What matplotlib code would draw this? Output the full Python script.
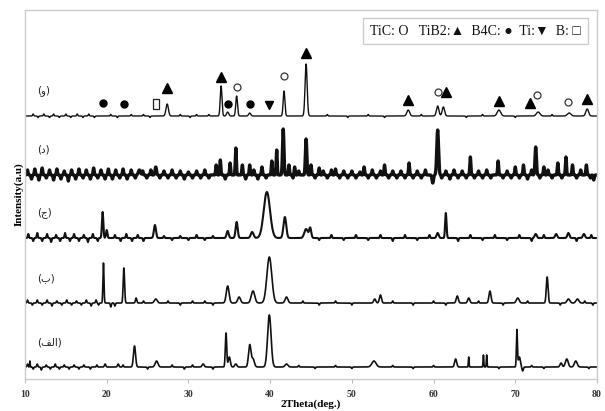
import numpy as np
import matplotlib
matplotlib.use("Agg")
import matplotlib.pyplot as plt

# Eje 2theta
theta_min, theta_max = 10, 80

# Etiquetas de cada patrón (de arriba a abajo) y su línea base (a.u.)
etiquetas = ["(و)", "(د)", "(ج)", "(ب)", "(\ufed2\ufedf\ufe8d)"]
lineas_base = [263, 204, 141, 76, 12]

# Picos: posición (deg), altura (a.u.), ancho (deg)
picos_waw_pos = [27.4, 34.0, 34.8, 35.9, 37.5, 41.7, 44.4, 56.9, 60.5, 61.2, 68.0, 72.8, 76.6, 78.8]
picos_waw_h = [12, 30, 4, 20, 3, 25, 52, 6, 10, 9, 6, 4, 3, 7]
picos_waw_w = [0.35, 0.25, 0.3, 0.25, 0.3, 0.25, 0.3, 0.4, 0.35, 0.35, 0.5, 0.5, 0.5, 0.4]

picos_dal_pos = [24.0, 26.0, 33.4, 33.9, 35.1, 35.8, 36.6, 37.5, 39.0, 40.2, 40.8, 41.6, 42.3, 43.0,
                 44.4, 45.0, 46.0, 48.0, 51.5, 54.0, 57.0, 59.9, 60.5, 64.5, 67.9, 70.0, 71.0, 72.5,
                 73.5, 75.2, 76.2, 77.0, 78.7]
picos_dal_h = [5, 8, 10, 15, 12, 27, 10, 10, 8, 14, 25, 46, 10, 8,
               36, 10, 7, 6, 8, 10, 12, -8, 45, 18, 14, 8, 10, 28,
               8, 12, 18, 10, 10]
picos_dal_w = [0.3, 0.2, 0.15, 0.15, 0.15, 0.15, 0.15, 0.15, 0.15, 0.15, 0.15, 0.2, 0.15, 0.15,
               0.2, 0.15, 0.15, 0.15, 0.15, 0.15, 0.15, 0.2, 0.25, 0.15, 0.15, 0.15, 0.15, 0.2,
               0.15, 0.15, 0.15, 0.15, 0.15]

picos_jim_pos = [19.5, 20.0, 25.9, 34.8, 35.9, 37.8, 39.6, 41.8, 44.4, 44.9, 60.5, 61.5, 72.5, 75.0, 76.5, 78.4]
picos_jim_h = [26, 8, 13, 7, 16, 6, 46, 21, 9, 10, 5, 25, 4, 4, 5, 4]
picos_jim_w = [0.2, 0.2, 0.3, 0.3, 0.3, 0.4, 0.9, 0.4, 0.5, 0.3, 0.3, 0.2, 0.3, 0.3, 0.3, 0.3]

picos_ba_pos = [19.6, 22.1, 23.6, 26.0, 34.8, 36.2, 37.9, 39.9, 42.0, 52.8, 53.5, 62.9, 64.3, 66.9,
                70.3, 73.9, 76.5, 77.6]
picos_ba_h = [40, 35, 5, 4, 17, 6, 12, 46, 6, 4, 8, 7, 5, 12, 5, 26, 4, 4]
picos_ba_w = [0.15, 0.2, 0.2, 0.4, 0.4, 0.4, 0.5, 0.7, 0.4, 0.3, 0.3, 0.3, 0.3, 0.3, 0.4, 0.25, 0.4, 0.4]

picos_alef_pos = [10.6, 19.8, 21.4, 23.4, 26.1, 31.8, 34.6, 35.0, 35.8, 37.5, 37.9, 39.9, 42.0, 52.7,
                  62.7, 64.3, 66.1, 66.5, 70.2, 70.5, 70.9, 75.6, 76.3, 77.4]
picos_alef_h = [6, 3, 3, 21, 6, 3, 34, 10, 3, 22, 8, 52, 3, 6, 8, 10, 12, 12, 37, 10, -4, 4, 8, 6]
picos_alef_w = [0.08, 0.2, 0.2, 0.3, 0.4, 0.3, 0.2, 0.3, 0.3, 0.35, 0.4, 0.5, 0.4, 0.6,
                0.3, 0.1, 0.1, 0.1, 0.15, 0.3, 0.2, 0.3, 0.4, 0.4]

# Ruido visible (ondulaciones pequeñas): posición y amplitud
ruido_waw_pos = [11.0, 11.6, 12.3, 13.0, 13.5, 14.2, 15.0, 15.6, 16.4, 17.1, 17.8, 18.5, 20.5, 21.3, 23.0,
                 24.5, 25.3, 29.0, 30.2, 31.0, 32.5, 47.0, 49.5, 52.0, 54.0, 58.5, 64.0, 66.0, 70.0, 74.5]
ruido_waw_amp = [2, -1.5, 2, -1.5, 2, -1.5, 2, -1.5, 2, -1.5, 2, -1.5, 1.5, -1.5, 1.5,
                 1.5, -1.5, 1.5, -1.5, 1.5, 1.5, 1.5, -1.5, 1.5, -1.5, 1.5, -1.5, 1.5, -1.5, 1.5]

ruido_dal_pos = [10.3, 10.8, 11.2, 11.7, 12.1, 12.6, 13.0, 13.5, 13.9, 14.4, 14.8, 15.3, 15.7, 16.2, 16.6,
                 17.1, 17.5, 18.0, 18.4, 18.9, 19.3, 19.8, 20.2, 20.7, 21.1, 21.6, 22.0, 22.5, 23.0, 23.5,
                 24.4, 24.9, 25.4, 26.5, 27.0, 27.5, 28.0, 28.5, 29.0, 29.5, 30.0, 30.5, 31.0, 31.5, 32.0,
                 32.5, 34.5, 37.0, 38.0, 38.5, 39.5, 42.8, 43.5, 45.5, 46.5, 47.0, 47.5, 48.5, 49.0, 49.5,
                 50.0, 50.5, 51.0, 52.0, 52.5, 53.0, 53.5, 54.5, 55.0, 55.5, 56.0, 56.5, 57.5, 58.0, 58.5,
                 59.0, 61.0, 61.5, 62.0, 62.5, 63.0, 63.5, 64.0, 65.0, 65.5, 66.0, 66.5, 67.0, 68.5, 69.0,
                 69.5, 70.5, 71.5, 72.0, 73.0, 74.0, 74.5, 75.7, 77.5, 78.0, 79.2, 79.6]
ruido_dal_amp = [5, -4, 6, -5, 7, -3, 5, -5, 6, -4, 4, -6, 5, -4, 6,
                 -3, 5, -4, 7, -3, 5, -4, 6, -4, 5, -3, 6, -4, 5, -3,
                 4, -3, 5, -3, 4, -3, 5, -3, 4, -4, 3, -3, 4, -3, 5,
                 -3, -4, -4, 5, -4, -3, -3, 4, -3, 4, -3, 5, -3, 4, -3,
                 4, -3, 3, -3, 5, -3, 4, -3, 4, -3, 4, -3, -3, 4, -3,
                 5, -3, 4, -4, 5, -3, 4, -3, -3, 4, -3, 5, -3, -3, 4,
                 -3, -3, -4, 5, -3, 5, -3, -3, -3, 5, -3, -5]

ruido_jim_pos = [10.4, 11.0, 11.5, 12.1, 12.7, 13.2, 13.8, 14.3, 14.9, 15.5, 16.0, 16.6, 17.2, 17.7, 18.3,
                 18.9, 21.0, 21.7, 22.4, 23.1, 23.8, 24.5, 27.0, 28.0, 29.0, 30.0, 31.0, 32.0, 33.0,
                 46.0, 47.5, 49.0, 50.5, 52.0, 53.5, 55.0, 56.5, 58.0, 59.5, 63.0, 64.5, 66.0, 67.5,
                 69.0, 70.5, 72.0, 73.5, 77.5, 79.3]
ruido_jim_amp = [4, -3, 5, -3, 4, -4, 3, -3, 5, -3, 4, -3, 3, -4, 4,
                 -3, 3, -3, 4, -3, 3, -3, 2, -2, 2, -2, 3, -2, 2,
                 -2, 3, -2, 3, -2, 3, -3, 3, -2, 3, -3, 3, -2, 3,
                 -2, 3, -3, 3, -3, 3]

ruido_ba_pos = [10.3, 10.9, 11.5, 12.1, 12.7, 13.3, 13.9, 14.5, 15.1, 15.7, 16.3, 16.9, 17.5, 18.1, 18.7,
                19.0, 20.5, 21.0, 24.5, 27.5, 29.0, 30.5, 32.0, 33.0, 44.0, 46.0, 48.0, 50.0, 55.0,
                57.5, 60.0, 61.5, 65.5, 68.5, 71.5, 75.5, 78.5, 79.5]
ruido_ba_amp = [3, -2, 3, -2, 3, -3, 2, -2, 3, -2, 2, -2, 3, -3, 3,
                -2, -4, -3, 2, 2, -2, 2, 2, -2, 2, -2, 2, -2, 2,
                -2, 2, -2, 2, -2, 2, -2, 2, -2]

ruido_alef_pos = [10.3, 11.0, 11.5, 12.0, 12.6, 13.1, 13.7, 14.2, 14.8, 15.4, 16.0, 16.6, 17.2, 18.0,
                  18.8, 22.0, 25.0, 28.0, 29.5, 30.5, 33.0, 43.5, 45.5, 48.0, 50.0, 55.0, 57.5, 60.0,
                  68.0, 72.0, 73.5, 79.0]
ruido_alef_amp = [3, -2, 3, -3, 2, -2, 3, -2, 2, -2, 2, -2, 2, -2,
                  2, 2, -2, 2, -2, 2, -2, 1.5, -1.5, 1.5, -1.5, 1.5, -1.5, 1.5,
                  -1.5, 1.5, -1.5, -1.5]

picos = [
    (picos_waw_pos, picos_waw_h, picos_waw_w, ruido_waw_pos, ruido_waw_amp),
    (picos_dal_pos, picos_dal_h, picos_dal_w, ruido_dal_pos, ruido_dal_amp),
    (picos_jim_pos, picos_jim_h, picos_jim_w, ruido_jim_pos, ruido_jim_amp),
    (picos_ba_pos, picos_ba_h, picos_ba_w, ruido_ba_pos, ruido_ba_amp),
    (picos_alef_pos, picos_alef_h, picos_alef_w, ruido_alef_pos, ruido_alef_amp),
]
grosor = [1.0, 2.4, 1.5, 1.2, 1.2]

# Marcadores de fases sobre el patrón (و): posición (deg) y altura (a.u.)
tib2_pos = [27.4, 34.0, 44.4, 56.9, 61.5, 68.0, 71.8, 78.8]
tib2_y = [291, 302, 326, 279, 287, 278, 276, 280]
tic_pos = [35.9, 41.7, 60.5, 72.7, 76.5]
tic_y = [292, 303, 287, 284, 277]
b4c_pos = [19.5, 22.1, 34.8, 37.5]
b4c_y = [276, 275, 275, 275]
ti_pos = [39.9]
ti_y = [274]
b_pos = [26.0]
b_y = [275]

ticks_x = [10, 20, 30, 40, 50, 60, 70, 80]

serif = ["Liberation Serif", "DejaVu Sans"]


def perfil(x, pos, alt, anc):
    y = np.zeros_like(x)
    for p, h, w in zip(pos, alt, anc):
        y += h * np.exp(-4 * np.log(2) * (x - p) ** 2 / w ** 2)
    return y


x = np.arange(theta_min, theta_max + 0.001, 0.02)

fig = plt.figure(figsize=(6.05, 4.11), dpi=100)
ax = fig.add_axes([25 / 605, (411 - 379) / 411, 572 / 605, 369 / 411])

for base, (pp, ph, pw, rp, ra), lw in zip(lineas_base, picos, grosor):
    y = base + perfil(x, pp, ph, pw) + perfil(x, rp, ra, [0.15] * len(rp))
    ax.plot(x, y, color="#111111", lw=lw)

# Etiquetas de los patrones
for base, et in zip(lineas_base, etiquetas):
    ax.text(11.5, base + 25, et, fontsize=7.5, color="#222222",
            family=["DejaVu Sans"], va="center", ha="left")

# Marcadores de fases
ax.plot(tib2_pos, tib2_y, ls="none", marker="^", ms=6.5, color="black")
ax.plot(tic_pos, tic_y, ls="none", marker="o", ms=5, mfc="white", mec="#333333", mew=0.9)
ax.plot(b4c_pos, b4c_y, ls="none", marker="o", ms=5, color="black")
ax.plot(ti_pos, ti_y, ls="none", marker="v", ms=6, color="black")
rect = [(-0.6, -1), (0.6, -1), (0.6, 1), (-0.6, 1), (-0.6, -1)]
ax.plot(b_pos, b_y, ls="none", marker=rect, ms=7, mfc="white", mec="#222222", mew=0.9)

# Leyenda como texto en un recuadro
ax.text(0.603, 0.943, "TiC: O   TiB2:\u25b2  B4C: \u25cf  Ti:\u25bc  B: \u25a1",
        transform=ax.transAxes, fontsize=10, family=serif, color="#111111",
        va="center", ha="left",
        bbox=dict(boxstyle="square,pad=0.5", fc="white", ec="#cccccc", lw=1))

ax.set_xlim(theta_min, theta_max)
ax.set_ylim(0, 369)
ax.set_xticks(ticks_x)
ax.set_xticklabels([str(t) for t in ticks_x], family=serif, fontsize=7,
                   fontweight="bold", color="#333333")
ax.set_yticks([])
ax.tick_params(axis="x", direction="out", length=3, color="#bbbbbb", pad=5)
for s in ax.spines.values():
    s.set_color("#cccccc")
    s.set_linewidth(1)

ax.set_xlabel("2Theta(deg.)", family=serif, fontsize=8, fontweight="bold", labelpad=0)
ax.set_ylabel("Intensity(a.u)", family=serif, fontsize=8, fontweight="bold", labelpad=1)

plt.savefig("out.png", dpi=100)
